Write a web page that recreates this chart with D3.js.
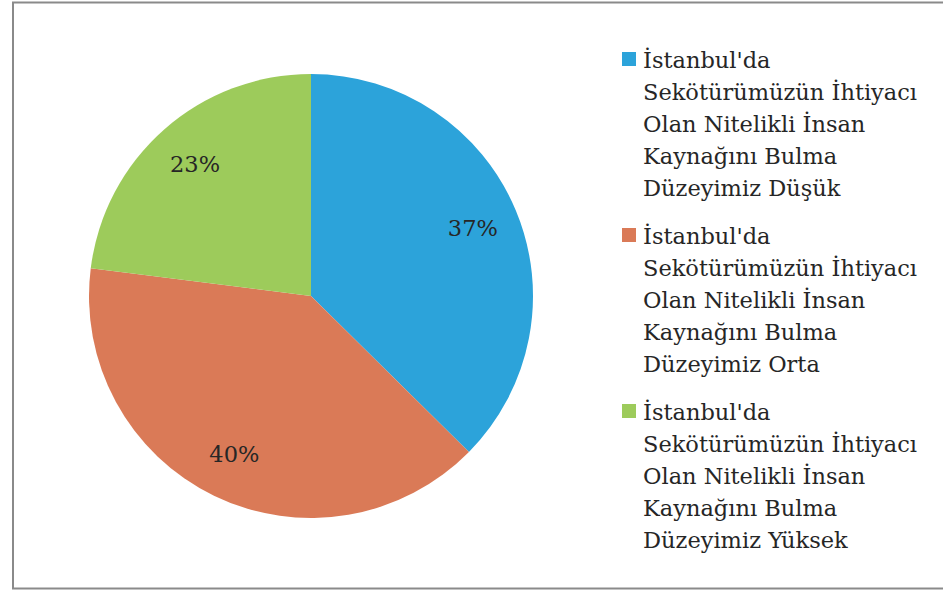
<!DOCTYPE html>
<html>
<head>
<meta charset="utf-8">
<script src="https://cdn.jsdelivr.net/npm/d3@7/dist/d3.min.js"></script>
<style>
  body { margin: 0; background: #fff; }
  svg { display: block; }
</style>
</head>
<body>
<svg id="chart" width="943" height="590"></svg>
<script>
// chart data
var categories = ["Düşük", "Orta", "Yüksek"];
var values = [37.4, 39.6, 23.0];
var colors = ["#2ca3da", "#da7a57", "#9dcb5b"];
var legendPrefix = ["İstanbul'da", "Sekötürümüzün İhtiyacı", "Olan Nitelikli İnsan", "Kaynağını Bulma"];

var svg = d3.select("#chart");
var fontFamily = "'DejaVu Serif', serif";

// frame
svg.append("rect")
    .attr("x", 13).attr("y", 2.5)
    .attr("width", 940).attr("height", 586)
    .attr("fill", "none")
    .attr("stroke", "#8a8a8a")
    .attr("stroke-width", 2);

var cx = 311, cy = 296, r = 222;

var data = categories.map(function(c, i){
    return {name: c, value: values[i], color: colors[i]};
});

var pie = d3.pie()
    .sort(null)
    .value(function(d){ return d.value; });

var arc = d3.arc().innerRadius(0).outerRadius(r);
var labelArc = d3.arc().innerRadius(r * 0.79).outerRadius(r * 0.79);

var g = svg.append("g")
    .attr("transform", "translate(" + cx + "," + cy + ")");

g.selectAll("path")
    .data(pie(data))
    .enter()
    .append("path")
    .attr("d", arc)
    .attr("fill", function(d){ return d.data.color; });

g.selectAll("text")
    .data(pie(data))
    .enter()
    .append("text")
    .attr("transform", function(d){ return "translate(" + labelArc.centroid(d) + ")"; })
    .attr("text-anchor", "middle")
    .attr("dy", "0.35em")
    .style("font-family", fontFamily)
    .style("font-size", "22.5px")
    .attr("fill", "#262626")
    .text(function(d){ return Math.round(d.data.value) + "%"; });

// legend
var legend = svg.selectAll("g.legend")
    .data(data)
    .enter()
    .append("g")
    .attr("class", "legend")
    .attr("transform", function(d, i){ return "translate(622," + (52 + i * 176) + ")"; });

legend.append("rect")
    .attr("width", 14).attr("height", 14)
    .attr("fill", function(d){ return d.color; });

legend.each(function(d){
    var lines = legendPrefix.concat(["Düzeyimiz " + d.name]);
    var t = d3.select(this).append("text")
        .style("font-family", fontFamily)
        .style("font-size", "22.5px")
        .attr("fill", "#262626");
    t.selectAll("tspan")
        .data(lines)
        .enter()
        .append("tspan")
        .attr("x", 21)
        .attr("y", function(l, j){ return 16 + j * 32; })
        .text(function(l){ return l; });
});
</script>
</body>
</html>
